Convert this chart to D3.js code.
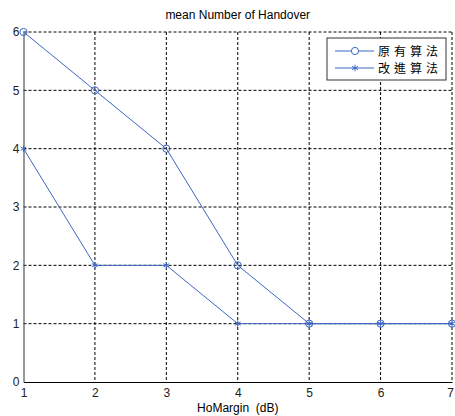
<!DOCTYPE html>
<html>
<head>
<meta charset="utf-8">
<script src="https://cdn.jsdelivr.net/npm/d3@7"></script>
<style>
  body { margin: 0; background: #fff; }
  svg { display: block; }
  .tick text { font-family: "Liberation Sans", Arial, sans-serif; font-size: 12px; fill: #222; }
</style>
</head>
<body>
<svg id="chart"></svg>
<script>
// data
const margins = [1, 2, 3, 4, 5, 6, 7];
const original = [6, 5, 4, 2, 1, 1, 1];
const improved = [4, 2, 2, 1, 1, 1, 1];
const seriesNames = ['原有算法', '改進算法'];
const yTicks = [0, 1, 2, 3, 4, 5, 6];

const W = 455, H = 416;
const margin = {top: 32, right: 3, bottom: 34, left: 23.5};
const width = W - margin.left - margin.right;
const height = H - margin.top - margin.bottom;
const blue = '#3d68c4';

const svg = d3.select('#chart').attr('width', W).attr('height', H);

const x = d3.scaleLinear().domain([1, 7]).range([0, width]);
const y = d3.scaleLinear().domain([0, 6]).range([height, 0]);

const chart = svg.append('g')
    .attr('transform', `translate(${margin.left},${margin.top})`);

// grid lines (dashed)
chart.append('g')
  .selectAll('line')
  .data(margins.slice(1))
  .join('line')
    .attr('x1', d => x(d)).attr('x2', d => x(d))
    .attr('y1', 0).attr('y2', height)
    .attr('stroke', '#000').attr('stroke-dasharray', '3,2');

chart.append('g')
  .selectAll('line')
  .data(yTicks.slice(1))
  .join('line')
    .attr('x1', 0).attr('x2', width)
    .attr('y1', d => y(d)).attr('y2', d => y(d))
    .attr('stroke', '#000').attr('stroke-dasharray', '3,2');

// axes
const xAxis = d3.axisBottom(x).tickValues(margins).tickFormat(d3.format('d')).tickSize(0).tickPadding(6);
const yAxis = d3.axisLeft(y).tickValues(yTicks).tickFormat(d3.format('d')).tickSize(0).tickPadding(4);

chart.append('g')
    .attr('transform', `translate(0,${height})`)
    .call(xAxis)
    .call(g => g.select('.domain').attr('stroke', '#000').attr('stroke-width', 1.2))
    .call(g => g.selectAll('.tick:last-of-type text').attr('dx', '-2'));

chart.append('g')
    .call(yAxis)
    .call(g => g.select('.domain').attr('stroke', '#555').attr('stroke-width', 1.2));

// lines
const line = d3.line().x((d, i) => x(margins[i])).y(d => y(d));

chart.append('path').datum(original)
    .attr('fill', 'none').attr('stroke', blue).attr('stroke-width', 1).attr('d', line);
chart.append('path').datum(improved)
    .attr('fill', 'none').attr('stroke', blue).attr('stroke-width', 1).attr('d', line);

// markers
chart.selectAll('.circ')
  .data(original)
  .join('circle')
    .attr('class', 'circ')
    .attr('cx', (d, i) => x(margins[i]))
    .attr('cy', d => y(d))
    .attr('r', 3.6)
    .attr('fill', 'none').attr('stroke', blue).attr('stroke-width', 1);

const star = d3.symbol().type(d3.symbolAsterisk).size(30);
chart.selectAll('.star')
  .data(improved)
  .join('path')
    .attr('class', 'star')
    .attr('transform', (d, i) => `translate(${x(margins[i])},${y(d)})`)
    .attr('d', star)
    .attr('fill', 'none').attr('stroke', blue).attr('stroke-width', 1);

// title and axis label
svg.append('text')
    .attr('x', margin.left + width / 2).attr('y', 19)
    .attr('text-anchor', 'middle')
    .style('font-family', '"Liberation Sans", Arial, sans-serif')
    .style('font-size', '12px')
    .text('mean Number of Handover');

svg.append('text')
    .attr('x', margin.left + width / 2).attr('y', 412)
    .attr('text-anchor', 'middle')
    .style('font-family', '"Liberation Sans", Arial, sans-serif')
    .style('font-size', '12px')
    .attr('xml:space', 'preserve')
    .text('HoMargin  (dB)');

// legend
const legend = svg.append('g').attr('transform', 'translate(327,38)');
legend.append('rect')
    .attr('width', 119).attr('height', 42)
    .attr('fill', '#fff').attr('stroke', '#333').attr('stroke-width', 1);

const rows = legend.selectAll('.row')
  .data(seriesNames)
  .join('g')
    .attr('class', 'row')
    .attr('transform', (d, i) => `translate(0,${13 + i * 17})`);

rows.append('line')
    .attr('x1', 8).attr('x2', 47)
    .attr('stroke', blue);

rows.filter((d, i) => i === 0).append('circle')
    .attr('cx', 28).attr('r', 3.6)
    .attr('fill', '#fff').attr('stroke', blue);

rows.filter((d, i) => i === 1).append('path')
    .attr('transform', 'translate(28,0)')
    .attr('d', star)
    .attr('fill', 'none').attr('stroke', blue);

rows.append('text')
    .attr('x', 51).attr('y', 4.5)
    .style('font-family', '"Noto Sans CJK TC", sans-serif')
    .style('font-size', '12px')
    .style('letter-spacing', '4px')
    .text(d => d);
</script>
</body>
</html>
